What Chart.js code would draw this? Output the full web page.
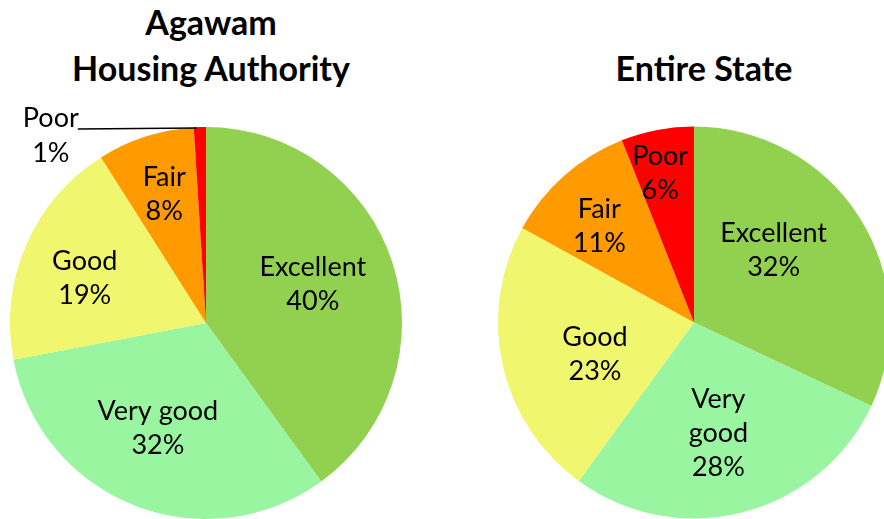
<!DOCTYPE html>
<html>
<head>
<meta charset="utf-8">
<script src="https://cdn.jsdelivr.net/npm/chart.js@4.4.1/dist/chart.umd.min.js"></script>
<style>
  html, body { margin: 0; padding: 0; overflow: hidden; background: #fff; }
  body { width: 884px; height: 519px; position: relative; font-family: Lato, "Open Sans", sans-serif; }
  .box { position: absolute; top: 0; }
  .ttl { position: absolute; text-align: center; font-weight: bold; font-size: 34px; line-height: 46px; color: #000; }
</style>
</head>
<body>
<div class="ttl" style="left:10px;width:402px;top:-1px;">Agawam<br>Housing Authority</div>
<div class="ttl" style="left:504px;width:400px;top:45px;">Entire State</div>
<div class="box" style="left:0;width:412px;height:519px;"><canvas id="agawam" width="412" height="519"></canvas></div>
<div class="box" style="left:480px;width:430px;height:519px;"><canvas id="state" width="430" height="519"></canvas></div>
<script>
var categories = ["Excellent", "Very good", "Good", "Fair", "Poor"];
var agawamValues = [40, 32, 19, 8, 1];
var stateValues = [32, 28, 23, 11, 6];
var sliceColors = ["#92D050", "#99F5A0", "#F0F76E", "#FF9A00", "#FF0000"];

// draws the data labels (category + percent) on each slice
var sliceLabels = {
  id: "sliceLabels",
  afterDatasetsDraw: function(chart, args, opts) {
    var ctx = chart.ctx;
    var meta = chart.getDatasetMeta(0);
    var data = chart.data.datasets[0].data;
    var total = data.reduce(function(a, b) { return a + b; }, 0);
    ctx.save();
    ctx.fillStyle = "#000";
    ctx.font = "27px Lato, 'Open Sans', sans-serif";
    ctx.textAlign = "center";
    ctx.textBaseline = "middle";
    meta.data.forEach(function(arc, i) {
      var p = arc.getProps(["x", "y", "startAngle", "endAngle", "outerRadius"], true);
      var mid = (p.startAngle + p.endAngle) / 2 + (opts.shift[i] || 0) * Math.PI / 180;
      var pct = Math.round(data[i] / total * 100) + "%";
      var name = chart.data.labels[i];
      if (opts.outside[i]) {
        var ex = p.x + Math.cos(mid) * p.outerRadius;
        var ey = p.y + Math.sin(mid) * p.outerRadius;
        var sx = ex - 122;
        ctx.strokeStyle = "#000";
        ctx.lineWidth = 1.5;
        ctx.beginPath();
        ctx.moveTo(sx, ey + 2);
        ctx.lineTo(ex - 3, ey + 1);
        ctx.stroke();
        ctx.fillText(name, sx - 27, ey - 9);
        ctx.fillText(pct, sx - 27, ey + 26);
        return;
      }
      var r = p.outerRadius * opts.dist[i];
      var cx = p.x + Math.cos(mid) * r;
      var cy = p.y + Math.sin(mid) * r;
      var lines = opts.wrap ? name.split(" ") : [name];
      lines.push(pct);
      var lh = 34;
      var y0 = cy - (lines.length - 1) * lh / 2;
      lines.forEach(function(t, k) { ctx.fillText(t, cx, y0 + k * lh); });
    });
    ctx.restore();
  }
};

function makePie(id, values, pad, labelOpts) {
  return new Chart(document.getElementById(id), {
    type: "pie",
    data: {
      labels: categories,
      datasets: [{ data: values, backgroundColor: sliceColors, borderWidth: 0 }]
    },
    options: {
      responsive: false,
      animation: false,
      devicePixelRatio: 1,
      layout: { padding: pad },
      plugins: {
        legend: { display: false },
        tooltip: { enabled: false },
        sliceLabels: labelOpts
      }
    },
    plugins: [sliceLabels]
  });
}

makePie("agawam", agawamValues, { top: 127, left: 9, right: 9, bottom: 0 }, {
  dist: [0.58, 0.59, 0.66, 0.69, 0],
  shift: [-2, 3, -3, 0, 0],
  outside: [false, false, false, false, true],
  wrap: false
});

makePie("state", stateValues, { top: 126, left: 18, right: 20, bottom: 0 }, {
  dist: [0.55, 0.58, 0.53, 0.69, 0.78],
  shift: [-10, 2, -5, -3, -2],
  outside: [false, false, false, false, false],
  wrap: true
});
</script>
</body>
</html>
